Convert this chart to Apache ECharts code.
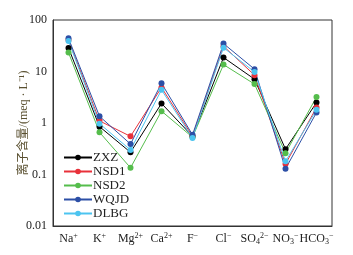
<!DOCTYPE html>
<html>
<head>
<meta charset="utf-8">
<script src="https://cdn.jsdelivr.net/npm/echarts@6/dist/echarts.min.js"></script>
<style>
  html, body { margin: 0; padding: 0; background: #fff; }
  #container { width: 353px; height: 255px; }
</style>
</head>
<body>
<div id="container"></div>
<script>
// ion categories, with rich-text labels (superscript / subscript charges)
const ions = ['Na+', 'K+', 'Mg2+', 'Ca2+', 'F-', 'Cl-', 'SO42-', 'NO3-', 'HCO3-'];
const ionLabels = [
  '{t|Na}{sup|+}', '{t|K}{sup|+}', '{t|Mg}{sup|2+}', '{t|Ca}{sup|2+}', '{t|F}{sup|−}',
  '{t|Cl}{sup|−}', '{t|SO}{sub|4}{sup|2−}', '{t|NO}{sub|3}{sup|−}', '{t|HCO}{sub|3}{sup|−}'
];

// meq/L
const zxz = [28.6, 0.85, 0.27, 2.4, 0.55, 18.7, 7.1, 0.31, 2.5];
const nsd1 = [41, 1.1, 0.55, 4.9, 0.55, 31, 8.5, 0.16, 2.0];
const nsd2 = [23.3, 0.66, 0.135, 1.7, 0.53, 13.6, 5.7, 0.26, 3.2];
const wqjd = [44, 1.35, 0.39, 5.9, 0.59, 34.8, 11.1, 0.129, 1.6];
const dlbg = [39, 0.97, 0.30, 4.4, 0.51, 29, 9.8, 0.18, 1.8];

const names = ['ZXZ', 'NSD1', 'NSD2', 'WQJD', 'DLBG'];
const colors = ['#000000', '#e8313a', '#55bd4c', '#2c4fa6', '#4cc4f0'];
const values = [zxz, nsd1, nsd2, wqjd, dlbg];

const serif = '"Liberation Serif", "Times New Roman", serif';

var chart = echarts.init(document.getElementById('container'));
let option = {
  animation: false,
  grid: { left: 53, right: 21, top: 20, bottom: 29 },
  legend: {
    orient: 'vertical',
    left: 58,
    top: 146,
    itemGap: 1,
    itemWidth: 28,
    itemHeight: 7,
    textStyle: { fontFamily: serif, fontSize: 13, color: '#222', padding: [0, 0, 0, -4] },
    data: names
  },
  xAxis: {
    type: 'category',
    data: ions,
    boundaryGap: true,
    axisLine: { lineStyle: { color: '#333', width: 1 } },
    axisTick: { inside: true, alignWithLabel: true, length: 4, lineStyle: { color: '#333' } },
    axisLabel: {
      interval: 0,
      margin: 6,
      formatter: (v, i) => ionLabels[i],
      rich: {
        t: { fontFamily: serif, fontSize: 12, color: '#222' },
        sup: { fontFamily: serif, fontSize: 8, color: '#222', verticalAlign: 'top', padding: [0, 0, 6, 0] },
        sub: { fontFamily: serif, fontSize: 8, color: '#222', verticalAlign: 'bottom', padding: [6, 0, 0, 0] }
      }
    }
  },
  yAxis: {
    type: 'log',
    logBase: 10,
    min: 0.01,
    max: 100,
    name: '离子含量/(meq · L⁻¹)',
    nameLocation: 'middle',
    nameGap: 23,
    nameMoveOverlap: false,
    nameTextStyle: { fontFamily: serif + ', "Noto Sans CJK SC"', fontSize: 12, color: '#5a5030' },
    axisLine: { show: true, lineStyle: { color: '#333' } },
    axisTick: { inside: true, length: 4, lineStyle: { color: '#333' } },
    minorTick: { show: false },
    splitLine: { show: false },
    axisLabel: {
      fontFamily: serif, fontSize: 12, color: '#222', margin: 6,
      formatter: (v) => String(v)
    }
  },
  series: names.map((n, i) => ({
    name: n,
    type: 'line',
    data: values[i],
    symbol: 'circle',
    symbolSize: 6,
    color: colors[i],
    lineStyle: { width: 1, color: colors[i] },
    itemStyle: { color: colors[i] }
  }))
};
// frame on top/right like the reference
option.graphic = [{
  type: 'rect',
  shape: { x: 53, y: 20, width: 279, height: 206 },
  style: { fill: 'none', stroke: '#333', lineWidth: 1 },
  silent: true
}];
chart.setOption(option);
</script>
</body>
</html>
